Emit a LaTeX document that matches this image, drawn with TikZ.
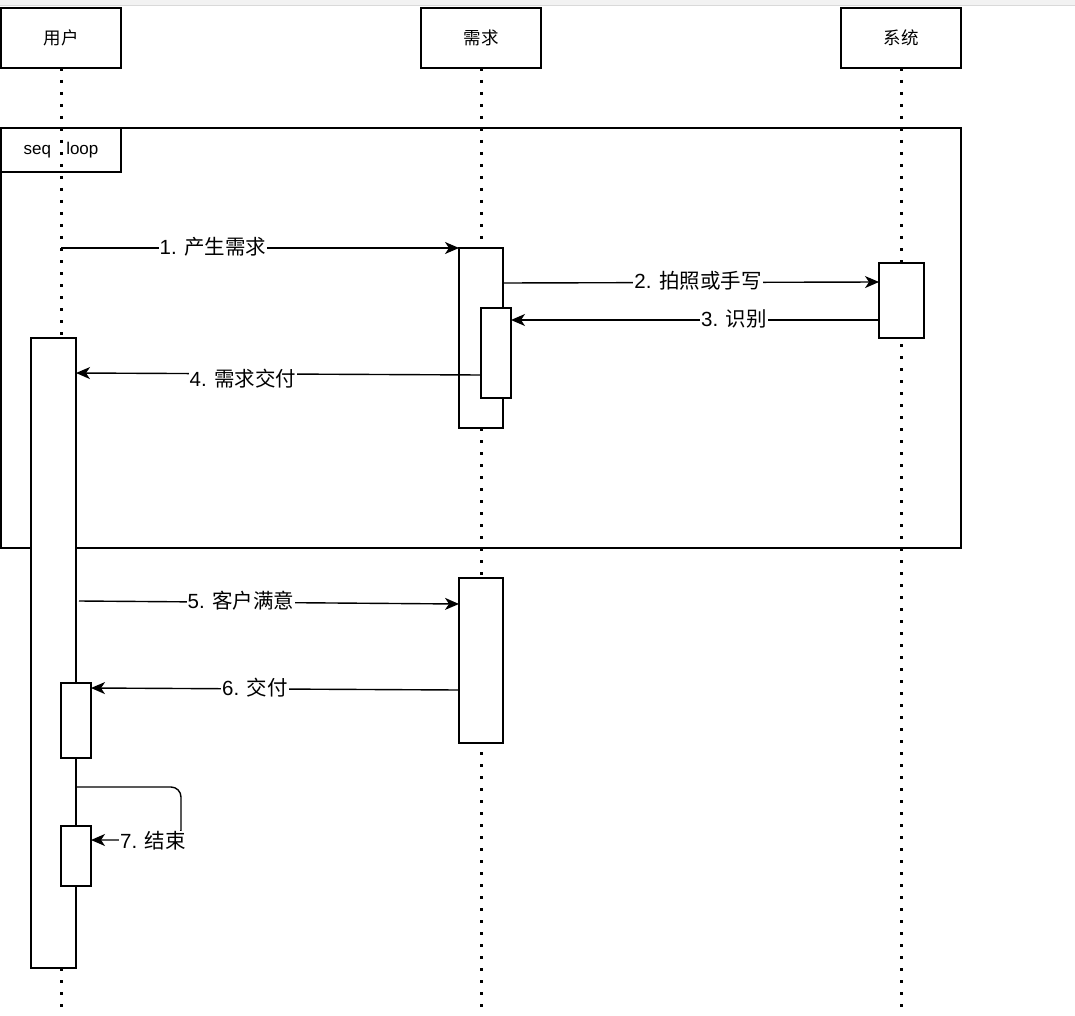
\documentclass[tikz,border=0pt]{standalone}
\usepackage{fontspec}
\setmainfont{Liberation Sans}
\newfontfamily\cjk{Noto Sans CJK SC}
\usetikzlibrary{arrows.meta}
\begin{document}
\begin{tikzpicture}[x=1pt,y=-1pt,
  every node/.style={inner sep=0pt, outer sep=0pt},
  head/.style={draw, line width=1.4pt, minimum width=120pt, minimum height=60pt, font=\fontsize{17.5}{17.5}\selectfont},
  act/.style={draw, fill=white, line width=1.4pt, anchor=north west},
  life/.style={line width=3pt, dash pattern=on 3pt off 9pt},
  msg/.style={line width=1.4pt, -{Stealth[length=14pt,width=12pt,inset=4pt]}},
  lbl/.style={fill=white, inner sep=1pt, font=\fontsize{20.5}{20.5}\selectfont},
]
\useasboundingbox (0,0) rectangle (1075,1016);
% top band
\fill[black!5] (0,0) rectangle (1075,5);
\draw[black!15, line width=1pt] (0,5.5) -- (1075,5.5);
% loop frame
\draw[line width=1.4pt] (1,128) rectangle (961,548);
\node[draw, line width=1.4pt, anchor=north west, minimum width=120pt, minimum height=44pt, font=\fontsize{17}{17}\selectfont] (frame) at (1,128) {seq\hspace{0.9em}loop};
% heads
\node[head] (user) at (61,38) {\cjk 用户};
\node[head] (req) at (481,38) {\cjk 需求};
\node[head] (sys) at (901,38) {\cjk 系统};
% lifelines
\coordinate (userend) at (61,1016);
\coordinate (reqend) at (481,1016);
\coordinate (sysend) at (901,1016);
\draw[life] (user.south) -- (userend);
\draw[life] (req.south) -- (reqend);
\draw[life] (sys.south) -- (sysend);
% activations
\node[act, minimum width=44pt, minimum height=180pt] (a1) at (459,248) {};
\node[act, minimum width=30pt, minimum height=90pt] (a2) at (481,308) {};
\node[act, minimum width=45pt, minimum height=75pt] (s1) at (879,263) {};
\node[act, minimum width=45pt, minimum height=630pt] (u1) at (31,338) {};
\node[act, minimum width=44pt, minimum height=165pt] (a3) at (459,578) {};
\node[act, minimum width=30pt, minimum height=75pt] (u2) at (61,683) {};
\node[act, minimum width=30pt, minimum height=60pt] (u3) at (61,826) {};
% messages
\coordinate (m1s) at (61,248);
\draw[msg] (m1s) -- (m1s -| a1.west);
\node[lbl] (l1) at (213,247) {1. {\cjk 产生需求}};
\coordinate (m2s) at (503,283);
\coordinate (m2e) at (879,282);
\draw[msg] (m2s) -- (m2e);
\node[lbl] (l2) at (698,281) {2. {\cjk 拍照或手写}};
\coordinate (m3s) at (879,320);
\draw[msg] (m3s) -- (m3s -| a2.east);
\node[lbl] (l3) at (734,319) {3. {\cjk 识别}};
\coordinate (m4s) at (481,375);
\coordinate (m4e) at (76,373);
\draw[msg] (m4s) -- (m4e);
\node[lbl] (l4) at (243,379) {4. {\cjk 需求交付}};
\coordinate (m5s) at (79,601);
\coordinate (m5e) at (459,604);
\draw[msg] (m5s) -- (m5e);
\node[lbl] (l5) at (241,601) {5. {\cjk 客户满意}};
\coordinate (m6s) at (459,690);
\coordinate (m6e) at (91,688);
\draw[msg] (m6s) -- (m6e);
\node[lbl] (l6) at (255,688) {6. {\cjk 交付}};
\coordinate (m7s) at (77,787);
\coordinate (m7c) at (181,840);
\draw[msg, rounded corners=10pt] (m7s) -| (m7c) -- (m7c -| u3.east);
\node[lbl] (l7) at (153,841) {7. {\cjk 结束}};
\end{tikzpicture}
\end{document}
